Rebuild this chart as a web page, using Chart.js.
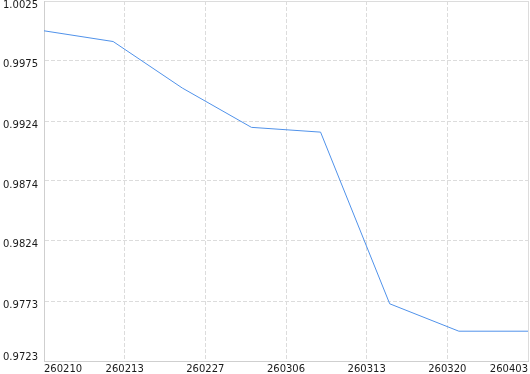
<!DOCTYPE html>
<html>
<head>
<meta charset="utf-8">
<script src="https://cdn.jsdelivr.net/npm/chart.js@4/dist/chart.umd.min.js"></script>
<style>
  html, body { margin: 0; padding: 0; background: #fff; }
  #wrap { width: 530px; height: 374px; }
</style>
</head>
<body>
<div id="wrap"><canvas id="chart"></canvas></div>
<script>
// tick labels along the bottom (evenly spread, not tied to the points)
var dateLabels = ['260210', '260213', '260227', '260306', '260313', '260320', '260403'];
// y axis tick values
var yTicks = [0.9723, 0.9773, 0.9824, 0.9874, 0.9924, 0.9975, 1.0025];
// series: point index along the hidden axis and its value
var pointIndex = [0, 1, 2, 3, 4, 5, 6, 7];
var values = [1.0000, 0.9991, 0.9952, 0.9919, 0.9915, 0.9771, 0.9748, 0.9748];

var gridColor = '#dcdcdc';
var axisColor = '#cfcfcf';

var points = [];
for (var i = 0; i < values.length; i++) {
    points.push({ x: pointIndex[i], y: values[i] });
}

new Chart(document.getElementById('chart'), {
    type: 'line',
    data: {
        labels: dateLabels,
        datasets: [{
            data: points,
            xAxisID: 'xData',
            borderColor: 'rgb(80,146,234)',
            borderWidth: 1,
            pointRadius: 0,
            tension: 0,
            fill: false
        }]
    },
    options: {
        responsive: true,
        maintainAspectRatio: false,
        animation: false,
        layout: { padding: { top: 1, right: 2, left: 0, bottom: 0 } },
        plugins: { legend: { display: false }, tooltip: { enabled: false } },
        scales: {
            xData: {
                type: 'linear',
                display: false,
                min: pointIndex[0],
                max: pointIndex[pointIndex.length - 1]
            },
            x: {
                type: 'category',
                offset: false,
                afterFit: function (scale) {
                    scale.height = 13;
                    scale.paddingLeft = 0;
                    scale.paddingRight = 0;
                },
                grid: {
                    color: gridColor,
                    drawTicks: false
                },
                border: {
                    color: axisColor,
                    dash: function (ctx) {
                        return ctx.index === dateLabels.length - 1 ? [] : [4, 2];
                    }
                },
                ticks: {
                    autoSkip: false,
                    maxRotation: 0,
                    align: 'inner',
                    padding: 2,
                    color: '#1a1a1a',
                    font: { family: 'DejaVu Sans', size: 10 }
                }
            },
            y: {
                min: yTicks[0],
                max: yTicks[yTicks.length - 1],
                afterBuildTicks: function (scale) {
                    scale.ticks = yTicks.map(function (v) { return { value: v }; });
                },
                afterFit: function (scale) {
                    scale.width = 44;
                    scale.paddingTop = 0;
                    scale.paddingBottom = 0;
                },
                grid: {
                    color: gridColor,
                    drawTicks: false
                },
                border: {
                    color: axisColor,
                    dash: function (ctx) {
                        return ctx.index === yTicks.length - 1 ? [] : [4, 2];
                    }
                },
                ticks: {
                    autoSkip: false,
                    padding: 6,
                    labelOffset: 4,
                    color: '#1a1a1a',
                    font: { family: 'DejaVu Sans', size: 10, lineHeight: '16px' },
                    callback: function (v, idx) {
                        var s = Number(v).toFixed(4);
                        // lowest label sits above its line
                        return idx === 0 ? [s, ''] : s;
                    }
                }
            }
        }
    }
});
</script>
</body>
</html>
